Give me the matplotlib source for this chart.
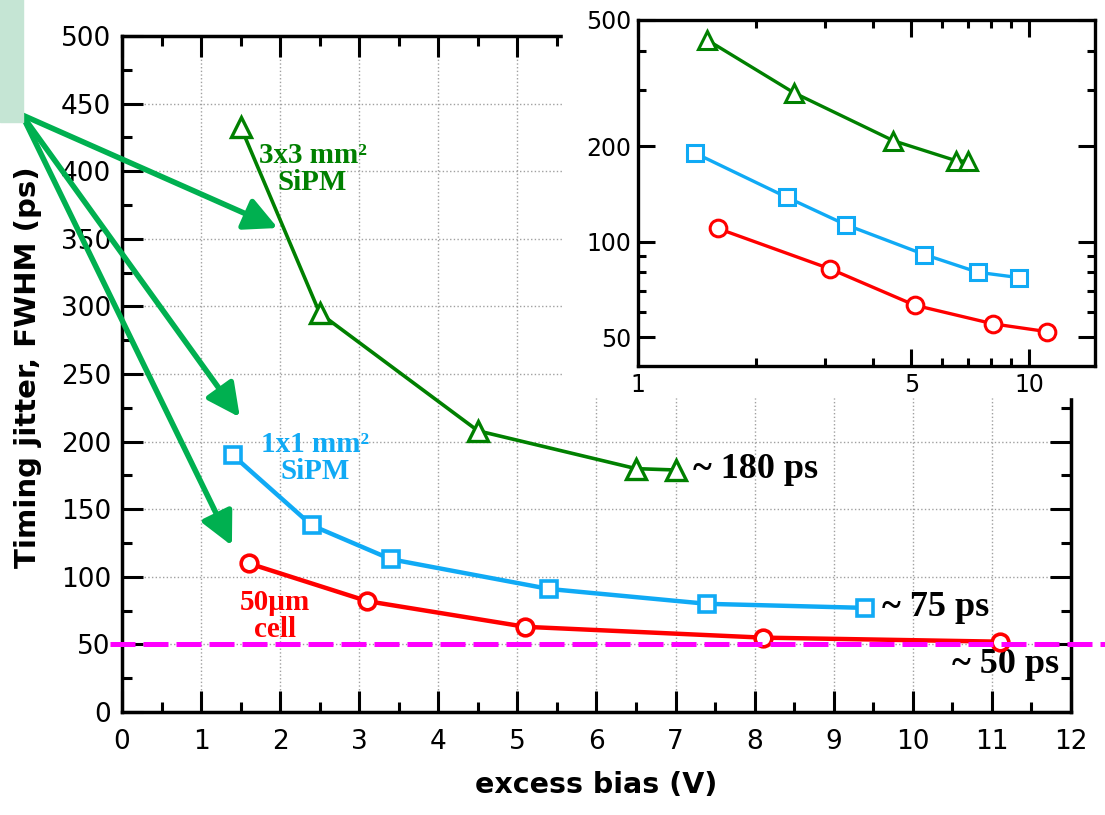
import numpy as np
import matplotlib.pyplot as plt
from matplotlib.patches import Rectangle
from matplotlib.ticker import FixedLocator, NullFormatter, MultipleLocator

# dados
bias_3x3 = [1.5, 2.5, 4.5, 6.5, 7.0]
jitter_3x3 = [433, 295, 208, 180, 179]
bias_1x1 = [1.4, 2.4, 3.4, 5.4, 7.4, 9.4]
jitter_1x1 = [190, 138, 113, 91, 80, 77]
bias_cell = [1.6, 3.1, 5.1, 8.1, 11.1]
jitter_cell = [110, 82, 63, 55, 52]
limite = 50

verde = '#008000'
azul = '#10aaf5'
vermelho = '#ff0000'
magenta = '#ff00ff'
seta = '#00b050'
serif = 'Liberation Serif'

fig = plt.figure(figsize=(11.05, 8.15), dpi=100)

# eixo principal
ax = fig.add_axes([0.1104, 0.1264, 0.8588, 0.8294])
ax.plot(bias_3x3, jitter_3x3, '-^', color=verde, lw=2.6, ms=14, mfc='white', mew=2.4, zorder=4)
ax.plot(bias_1x1, jitter_1x1, '-s', color=azul, lw=3.2, ms=12, mfc='white', mew=2.6, zorder=4)
ax.plot(bias_cell, jitter_cell, '-o', color=vermelho, lw=3.2, ms=12, mfc='white', mew=2.6, zorder=4)
ax.plot([-0.013, 1.04], [limite, limite], transform=ax.get_yaxis_transform(),
        color=magenta, lw=3.6, dashes=(5, 1.6), clip_on=False, zorder=5)

ax.set_xlim(0, 12)
ax.set_ylim(0, 500)
ax.xaxis.set_major_locator(MultipleLocator(1))
ax.xaxis.set_minor_locator(MultipleLocator(0.5))
ax.yaxis.set_major_locator(MultipleLocator(50))
ax.yaxis.set_minor_locator(MultipleLocator(25))
ax.grid(True, color='#a0a0a0', ls=':', lw=1)
ax.tick_params(which='both', direction='in', top=True, right=True, width=2.2, labelsize=19)
ax.tick_params(which='major', length=15)
ax.tick_params(which='minor', length=7)
ax.tick_params(axis='x', pad=12)
ax.tick_params(axis='y', pad=8)
for s in ax.spines.values():
    s.set_linewidth(2.5)
ax.set_xlabel('excess bias (V)', fontsize=20.5, fontweight='bold', labelpad=12)
ax.set_ylabel('Timing jitter, FWHM (ps)', fontsize=21, fontweight='bold')
ax.yaxis.set_label_coords(-0.084, 0.51)

# textos
ax.text(2.41, 402, '3x3 mm²\nSiPM', color=verde, fontsize=21, fontweight='bold',
        family=serif, ha='center', va='center', linespacing=1.0)
ax.text(2.44, 188, '1x1 mm²\nSiPM', color=azul, fontsize=21, fontweight='bold',
        family=serif, ha='center', va='center', linespacing=1.0)
ax.text(1.93, 71, '50µm\ncell', color=vermelho, fontsize=21, fontweight='bold',
        family=serif, ha='center', va='center', linespacing=1.0, zorder=3)
ax.text(7.22, 179, '~ 180 ps', fontsize=26, fontweight='bold', family=serif, va='center')
ax.text(9.61, 77.6, '~ 75 ps', fontsize=26, fontweight='bold', family=serif, va='center')
ax.text(10.49, 35, '~ 50 ps', fontsize=26, fontweight='bold', family=serif, va='center')

# caixa verde e setas
fig.add_artist(Rectangle((0, 0.850), 0.0208, 0.16, transform=fig.transFigure,
                         color='#c5e5d4', zorder=6))
origem = (0.0199, 0.859)
for alvo in [(1.97, 358), (1.49, 218), (1.39, 123)]:
    ax.annotate('', xy=alvo, xycoords='data', xytext=origem, textcoords='figure fraction',
                arrowprops=dict(arrowstyle='-|>,head_length=0.5,head_width=0.25',
                                color=seta, lw=4, mutation_scale=40,
                                shrinkA=0, shrinkB=0), zorder=6)

# fundo branco do grafico interno
fig.add_artist(Rectangle((0.5095, 0.5129), 0.5, 0.5, transform=fig.transFigure,
                         color='white', zorder=1))

# grafico interno (log-log)
axi = fig.add_axes([0.5774, 0.5509, 0.4136, 0.4246], zorder=3)
axi.plot(bias_3x3, jitter_3x3, '-^', color=verde, lw=2.4, ms=13, mfc='white', mew=2.2)
axi.plot(bias_1x1, jitter_1x1, '-s', color=azul, lw=2.4, ms=12, mfc='white', mew=2.2)
axi.plot(bias_cell, jitter_cell, '-o', color=vermelho, lw=2.4, ms=12, mfc='white', mew=2.2)
axi.set_xscale('log')
axi.set_yscale('log')
axi.set_xlim(1, 14.75)
axi.set_ylim(40.5, 500)
axi.xaxis.set_major_locator(FixedLocator([1, 5, 10]))
axi.xaxis.set_minor_locator(FixedLocator([2, 3, 4, 6, 7, 8, 9]))
axi.yaxis.set_major_locator(FixedLocator([50, 100, 200, 500]))
axi.yaxis.set_minor_locator(FixedLocator([60, 70, 80, 90, 300, 400]))
axi.xaxis.set_major_formatter(plt.FuncFormatter(lambda v, p: f'{v:g}'))
axi.yaxis.set_major_formatter(plt.FuncFormatter(lambda v, p: f'{v:g}'))
axi.xaxis.set_minor_formatter(NullFormatter())
axi.yaxis.set_minor_formatter(NullFormatter())
axi.tick_params(which='both', direction='in', top=True, right=True, width=2.2, labelsize=17)
axi.tick_params(which='major', length=12)
axi.tick_params(which='minor', length=6)
axi.tick_params(axis='x', pad=5)
axi.tick_params(axis='y', pad=5)
for s in axi.spines.values():
    s.set_linewidth(2.4)

fig.savefig('out.png', dpi=100)
